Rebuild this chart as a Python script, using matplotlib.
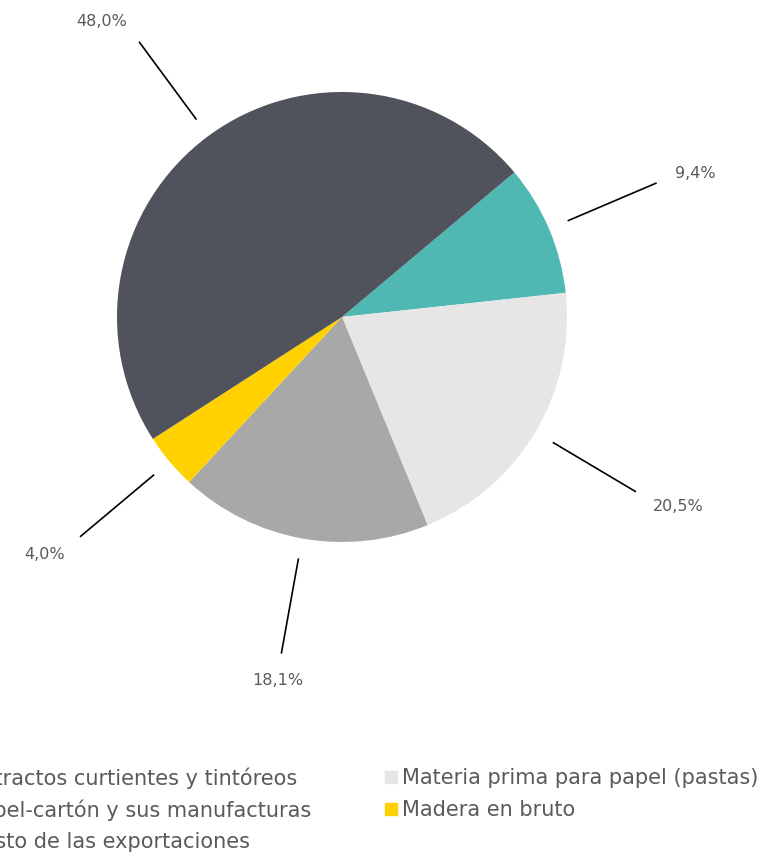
import numpy as np
import matplotlib
matplotlib.use("Agg")
import matplotlib.pyplot as plt

# slice data, clockwise from the upper right
values = [9.4, 20.5, 18.1, 4.0, 48.0]
labels = ["9,4%", "20,5%", "18,1%", "4,0%", "48,0%"]
colors = ["#4fb8b3", "#e6e6e6", "#a8a8a8", "#ffd100", "#50525c"]

# legend (column-major, the left column is cropped by the figure edge)
legend_left = ["Extractos curtientes y tintóreos",
               "Papel-cartón y sus manufacturas",
               "Resto de las exportaciones"]
legend_left_colors = ["#4fb8b3", "#a8a8a8", "#50525c"]
legend_right = ["Materia prima para papel (pastas)", "Madera en bruto"]
legend_right_colors = ["#e6e6e6", "#ffd100"]

W, H = 761, 854
fig = plt.figure(figsize=(W / 100, H / 100), dpi=100)
ax = fig.add_axes([0, 0, 1, 1])

cx, cy, R = 342, H - 318, 225
wedges, _ = ax.pie(values, colors=colors, startangle=40, counterclock=False,
                   center=(cx, cy), radius=R,
                   wedgeprops=dict(linewidth=0))
ax.set_xlim(0, W)
ax.set_ylim(0, H)
ax.set_aspect("equal")
ax.axis("off")

txt_color = "#5a5a5a"
for w, lab in zip(wedges, labels):
    ang = np.deg2rad((w.theta1 + w.theta2) / 2)
    c, s = np.cos(ang), np.sin(ang)
    x1, y1 = cx + 1.52 * R * c, cy + 1.52 * R * s
    ax.plot([cx + 1.09 * R * c, x1], [cy + 1.09 * R * s, y1],
            color="black", lw=1.2, solid_capstyle="butt")
    if c > 0.3:
        ha = "left"
    elif c < -0.3:
        ha = "right"
    else:
        ha = "center"
    ax.text(x1 + 20 * c, y1 + 26 * s, lab,
            ha=ha, va="center", fontsize=11.5, color=txt_color)

# legend drawn by hand so it can run off the left edge like the original
rows = [H - 778, H - 810, H - 842]
for i, (t, col) in enumerate(zip(legend_left, legend_left_colors)):
    ax.add_patch(plt.Rectangle((-47, rows[i] - 6), 12, 12, color=col, clip_on=False))
    ax.text(-31, rows[i], t, ha="left", va="center", fontsize=15, color=txt_color)
for i, (t, col) in enumerate(zip(legend_right, legend_right_colors)):
    ax.add_patch(plt.Rectangle((385, rows[i] - 6), 12, 12, color=col, clip_on=False))
    ax.text(402, rows[i], t, ha="left", va="center", fontsize=15, color=txt_color)

fig.savefig("out.png", dpi=100)
